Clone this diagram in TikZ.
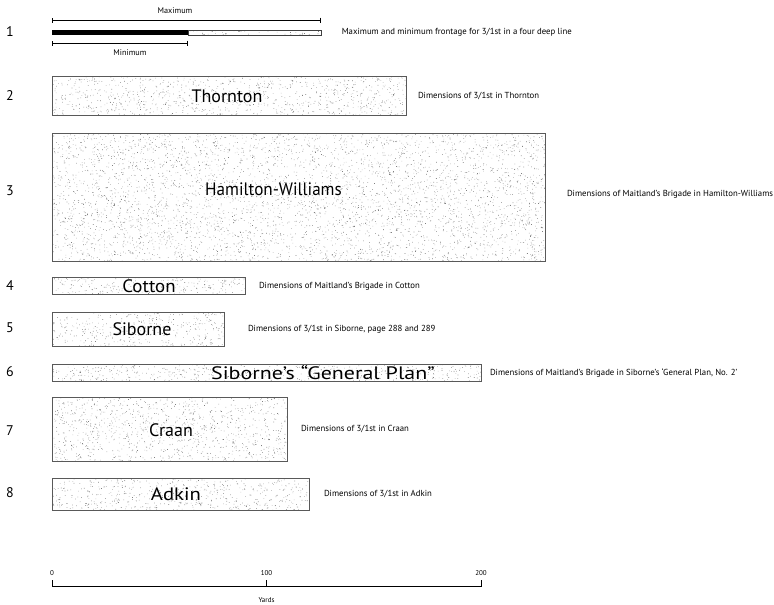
\documentclass[tikz,border=0pt]{standalone}
\usepackage{fontspec}
\setmainfont{PT Sans}
\usetikzlibrary{positioning}
\usetikzlibrary{arrows.meta}
\newdimen\stipw
\newdimen\stiph
\tikzset{stippled/.style = {path picture = {
      \pgfextractx{\stipw}{\pgfpointdiff{\pgfpointanchor{path picture bounding box}{south west}}{\pgfpointanchor{path picture bounding box}{north east}}}
      \pgfextracty{\stiph}{\pgfpointdiff{\pgfpointanchor{path picture bounding box}{south west}}{\pgfpointanchor{path picture bounding box}{north east}}}
      \pgfmathtruncatemacro\ndots{(\stipw/7)*(\stiph/2)}
      \fill [black!50] \foreach \k in {1,...,\ndots} {([shift={({rnd*\the\stipw}, {rnd*\the\stiph})}]path picture bounding box.south west) rectangle ++(0.6pt, 0.6pt)};
      }}}
\tikzset{bar/.style = {draw = black!65, line width = 0.8pt, inner sep = 0, anchor = north west, stippled}}
\tikzset{barlabel/.style = {inner sep = 0, font = \fontsize{18}{20}\selectfont}}
\tikzset{desc/.style = {inner sep = 0, font = \fontsize{8.75}{10}\selectfont}}
\tikzset{small/.style = {inner sep = 0, font = \fontsize{7}{8}\selectfont}}
\tikzset{num/.style = {inner sep = 0, font = \fontsize{14}{16}\selectfont}}
\tikzset{dim/.style = {line width = 0.6pt, {Bar[width=5pt]}-{Bar[width=5pt]}}}

\begin{document}
\begin{tikzpicture}[x = 1pt, y = -1pt]
  \useasboundingbox (0, 0) rectangle (774, 605);
  \pgfmathsetseed{17}

  % 1
  \node [num] (n1) at (10, 32) {1};
  \node [fill, inner sep = 0, anchor = north west, minimum width = 136, minimum height = 5] (minbar) at (52, 30) {};
  \node [draw = black!75, line width = 0.6pt, inner sep = 0, anchor = north west, minimum width = 133, minimum height = 5, stippled] (maxbar) at (188, 30) {};
  \coordinate (maxl) at (52, 20);
  \coordinate (maxr) at (321, 20);
  \coordinate (minl) at (52, 43);
  \coordinate (minr) at (188, 43);
  \draw [dim] (maxl) -- (maxr);
  \draw [dim] (minl) -- (minr);
  \node [small, font = \fontsize{8.2}{9}\selectfont] (maxlab) at (175, 11) {Maximum};
  \node [small, font = \fontsize{8.2}{9}\selectfont] (minlab) at (130, 53) {Minimum};
  \node [desc, right = 20pt of maxbar] (d1) {Maximum and minimum frontage for 3/1st in a four deep line};

  % 2 - 8
  \node [num] (n2) at (10, 96) {2};
  \node [bar, minimum width = 354, minimum height = 39] (thornton) at (52, 76) {};
  \node [barlabel] (thorntonlab) at (227, 96) {Thornton};
  \node [desc, right = 11pt of thornton] (d2) {Dimensions of 3/1st in Thornton};

  \node [num] (n3) at (10, 191) {3};
  \node [bar, minimum width = 493, minimum height = 128] (hamilton) at (52, 133) {};
  \node [barlabel] (hamiltonlab) at (273.5, 189) {\scalebox{0.95}[1]{Hamilton-Williams}};
  \node [desc, right = 21pt of hamilton, yshift = 3pt] (d3) {Dimensions of Maitland's Brigade in Hamilton-Williams};

  \node [num] (n4) at (10, 286) {4};
  \node [bar, minimum width = 193, minimum height = 17] (cotton) at (52, 277) {};
  \node [barlabel] (cottonlab) at (149, 286) {\scalebox{1.05}[1]{Cotton}};
  \node [desc, right = 13pt of cotton] (d4) {Dimensions of Maitland's Brigade in Cotton};

  \node [num] (n5) at (10, 328) {5};
  \node [bar, minimum width = 172, minimum height = 34] (siborne) at (52, 312) {};
  \node [barlabel] (sibornelab) at (142, 329) {Siborne};
  \node [desc, right = 23pt of siborne] (d5) {Dimensions of 3/1st in Siborne, page 288 and 289};

  \node [num] (n6) at (10, 372) {6};
  \node [bar, minimum width = 429, minimum height = 17] (plan) at (52, 364) {};
  \node [barlabel] (planlab) at (323, 372.5) {\scalebox{1.22}[1]{Siborne's “General Plan”}};
  \node [desc, right = 8pt of plan] (d6) {Dimensions of Maitland's Brigade in Siborne's ‘General Plan, No. 2’};

  \node [num] (n7) at (10, 431) {7};
  \node [bar, minimum width = 235, minimum height = 64] (craan) at (52, 397) {};
  \node [barlabel] (craanlab) at (171, 430) {Craan};
  \node [desc, right = 13pt of craan] (d7) {Dimensions of 3/1st in Craan};

  \node [num] (n8) at (10, 493) {8};
  \node [bar, minimum width = 257, minimum height = 32] (adkin) at (52, 478) {};
  \node [barlabel] (adkinlab) at (176, 494) {\scalebox{1.15}[1]{Adkin}};
  \node [desc, right = 14pt of adkin] (d8) {Dimensions of 3/1st in Adkin};

  % scale
  \coordinate (y0) at (52, 586);
  \coordinate (y100) at (266.5, 586);
  \coordinate (y200) at (481, 586);
  \draw [line width = 0.6pt] (y0) ++(0, -6) -- (y0) -- (y200) -- ++(0, -6);
  \draw [line width = 0.6pt] (y100) -- ++(0, -6);
  \node [small] (l0) at (52, 573) {0};
  \node [small] (l100) at (266.5, 573) {100};
  \node [small] (l200) at (481, 573) {200};
  \node [small] (yards) at (266.5, 600) {Yards};
\end{tikzpicture}
\end{document}
